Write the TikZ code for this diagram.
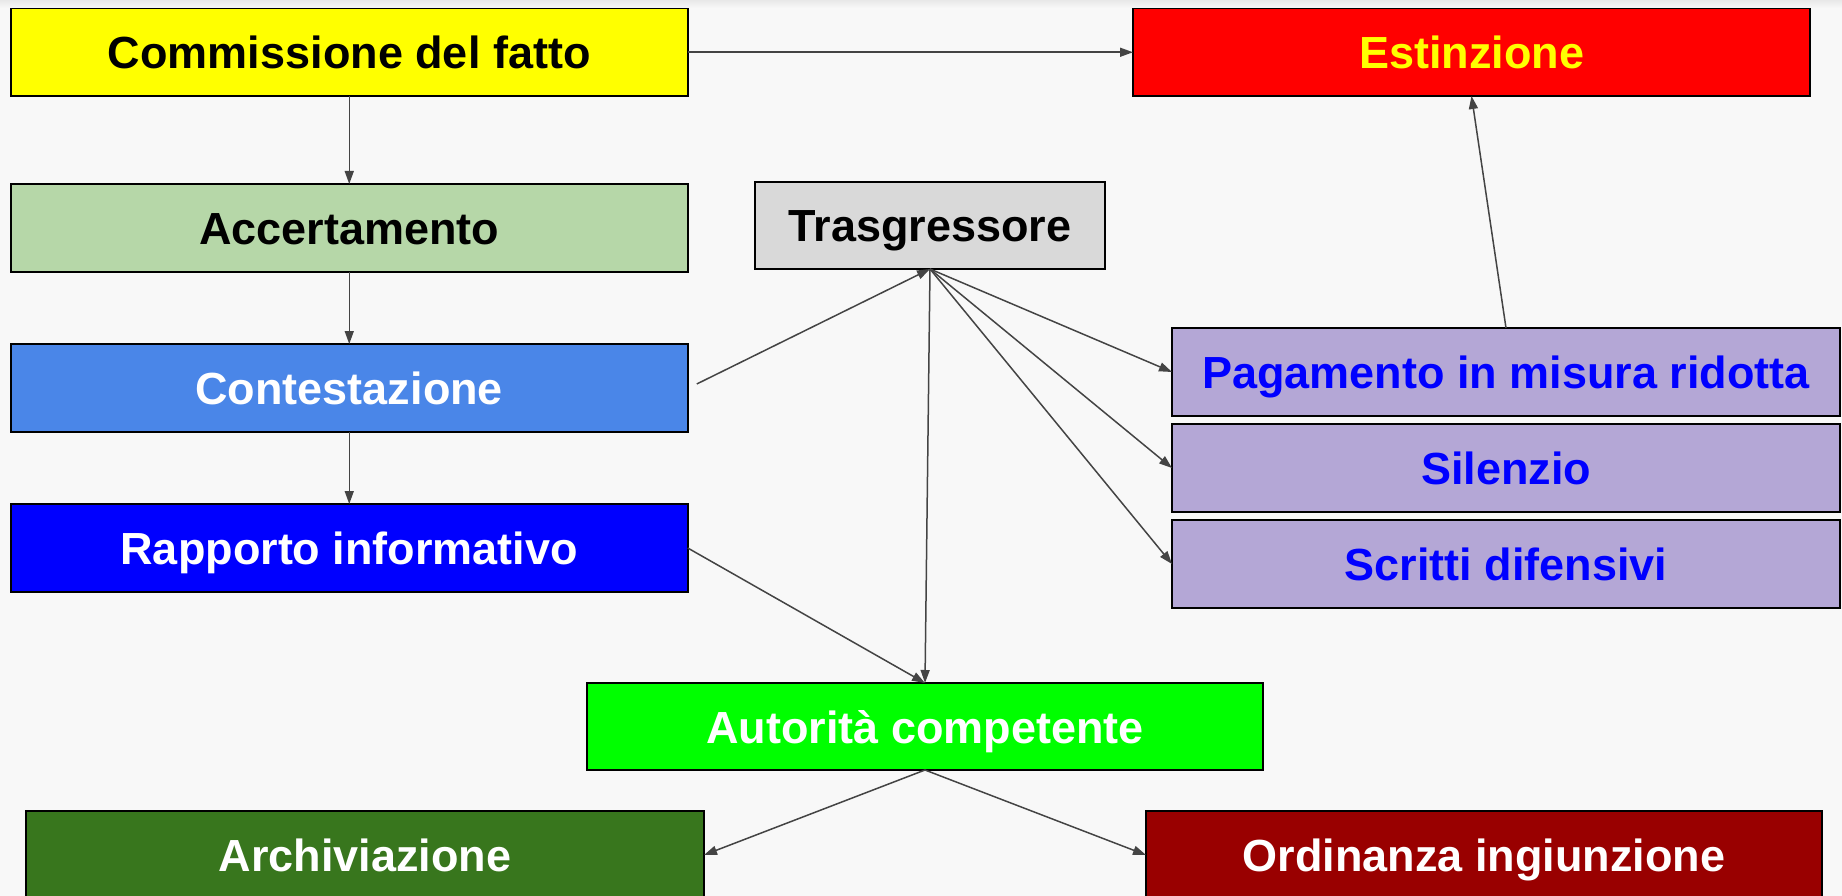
\documentclass[tikz,border=0pt]{standalone}
\usepackage{fontspec}
\setmainfont{Liberation Sans}
\usetikzlibrary{arrows.meta}
\definecolor{bg}{HTML}{F8F8F8}
\definecolor{cyellow}{HTML}{FFFF00}
\definecolor{cacc}{HTML}{B6D7A8}
\definecolor{ccont}{HTML}{4A86E8}
\definecolor{crapp}{HTML}{0000FF}
\definecolor{ctras}{HTML}{D9D9D9}
\definecolor{cest}{HTML}{FF0000}
\definecolor{cpurple}{HTML}{B4A7D6}
\definecolor{caut}{HTML}{00FF00}
\definecolor{carch}{HTML}{38761D}
\definecolor{cord}{HTML}{990000}
\definecolor{cline}{HTML}{444444}
\tikzset{
  box/.style={draw=black, line width=1.5pt, inner sep=0pt, outer sep=0pt,
    minimum width=677pt, minimum height=88pt,
    text height=33pt, text depth=0pt,
    font=\bfseries\fontsize{45}{54}\selectfont},
  conn/.style={draw=cline, line width=1.5pt, -{Triangle[length=13pt,width=9pt]}},
  plain/.style={draw=cline, line width=1.5pt}
}
\begin{document}
\begin{tikzpicture}[x=1pt,y=-1pt]
\useasboundingbox (0,0) rectangle (1842,896);
\fill[bg] (0,0) rectangle (1842,896);
\shade[top color=black!9, bottom color=bg] (0,0) rectangle (1842,8);

\node[box, fill=cyellow, text=black, minimum height=87.5pt] (comm) at (349.25,52.25) {Commissione del fatto};
\node[box, fill=cacc, text=black] (acc) at (349.25,228) {Accertamento};
\node[box, fill=ccont, text=white] (cont) at (349.25,388) {Contestazione};
\node[box, fill=crapp, text=white] (rapp) at (349.25,548) {Rapporto informativo};
\node[box, fill=ctras, text=black, minimum width=350pt, minimum height=87pt] (tras) at (930,225.5) {Trasgressore};
\node[box, fill=cest, text=cyellow, minimum height=87.5pt] (est) at (1471.5,52.25) {Estinzione};
\node[box, fill=cpurple, text=crapp, minimum width=668pt] (pag) at (1506,372) {Pagamento in misura ridotta};
\node[box, fill=cpurple, text=crapp, minimum width=668pt] (sil) at (1506,468) {Silenzio};
\node[box, fill=cpurple, text=crapp, minimum width=668pt] (scr) at (1506,564) {Scritti difensivi};
\node[box, fill=caut, text=white, minimum width=676pt, minimum height=87pt] (aut) at (925,726.5) {Autorità competente};
\node[box, fill=carch, text=white, minimum width=678pt] (arch) at (365,855) {Archiviazione};
\node[box, fill=cord, text=white, minimum width=676pt] (ord) at (1484,855) {Ordinanza ingiunzione};

\coordinate (c1) at ([shift={(9,-4)}]cont.east);

\draw[conn] (comm.east) -- (est.west);
\draw[conn] (comm.south) -- (acc.north);
\draw[conn] (acc.south) -- (cont.north);
\draw[conn] (cont.south) -- (rapp.north);
\draw[conn] (c1) -- (tras.south);
\draw[conn] (tras.south) -- (pag.west);
\draw[conn] (tras.south) -- (sil.west);
\draw[conn] (tras.south) -- (scr.west);
\draw[conn] (tras.south) -- (aut.north);
\draw[conn] (rapp.east) -- (aut.north);
\draw[conn] (pag.north) -- (est.south);
\draw[conn] (aut.south) -- (arch.east);
\draw[conn] (aut.south) -- (ord.west);
\end{tikzpicture}
\end{document}
